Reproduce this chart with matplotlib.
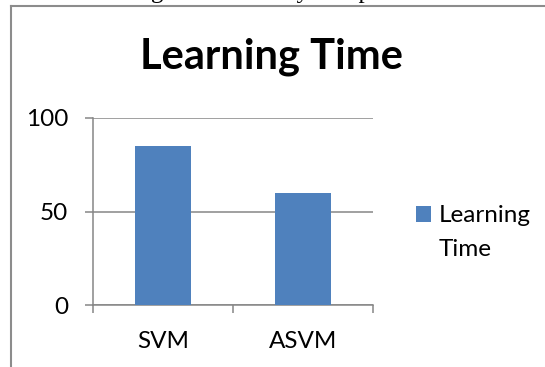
import matplotlib.pyplot as plt
from matplotlib.lines import Line2D
from matplotlib.patches import Rectangle
from matplotlib.legend_handler import HandlerPatch
from matplotlib.container import BarContainer

models = ['SVM', 'ASVM']
learning_time = [85, 60]
y_ticks = [0, 50, 100]

bar_color = '#4F81BD'
grid_color = '#868686'

plt.rcParams['font.family'] = ['Lato', 'DejaVu Sans']

W, H = 545, 367
fig = plt.figure(figsize=(W / 100, H / 100), dpi=100)

def fx(px):
    return px / W

def fy(py):
    return 1 - py / H

# cut-off caption from the page above the chart
fig.text(fx(73), fy(-1.8), 'Learning with accuracy comparison', family='Liberation Serif',
         fontsize=18, ha='left', va='baseline', color='black')

# chart border (only left and top visible)
fig.add_artist(Line2D([fx(11), fx(11)], [0, fy(6)], color='#8c8c8c', lw=1.5))
fig.add_artist(Line2D([fx(11), 1], [fy(6), fy(6)], color='#8c8c8c', lw=1.5))

fig.text(fx(271), fy(69), 'Learning Time', fontsize=30, fontweight='bold', ha='center', va='baseline')

ax = fig.add_axes([fx(93), fy(305), fx(373) - fx(93), fy(118) - fy(305)])
x = list(range(len(models)))
bars = ax.bar(x, learning_time, width=0.4, color=bar_color, label='Learning\nTime', zorder=3)

ax.set_xlim(-0.5, len(models) - 0.5)
ax.set_ylim(0, 100)
ax.set_yticks(y_ticks)
ax.set_yticklabels([str(v) for v in y_ticks])
ax.yaxis.grid(True, color=grid_color, lw=1.1, zorder=0)
ax.set_xticks(x)
ax.set_xticklabels(models)
ax.set_xticks([i - 0.5 for i in range(len(models) + 1)], minor=True)

for s in ['top', 'right']:
    ax.spines[s].set_visible(False)
for s in ['left', 'bottom']:
    ax.spines[s].set_color(grid_color)
    ax.spines[s].set_linewidth(1.1)

ax.tick_params(axis='y', length=5.8, width=1.1, color=grid_color, pad=12, labelsize=17.5)
ax.tick_params(axis='x', which='major', length=0, pad=19, labelsize=17.5)
ax.tick_params(axis='x', which='minor', length=5.8, width=1.1, color=grid_color)


# legend square sits next to the first line of the wrapped label
def top_square(legend, orig_handle, xdescent, ydescent, width, height, fontsize):
    return Rectangle((-xdescent, -ydescent + 13.5), width, height)


handler = HandlerPatch(patch_func=top_square,
                       update_func=lambda h, orig: h.update_from(orig.patches[0]))
leg = ax.legend(loc='center left', bbox_to_anchor=(fx(416), fy(232.5)), bbox_transform=fig.transFigure,
                frameon=False, fontsize=17.5, handlelength=0.62, handleheight=0.62, handletextpad=0.3,
                borderaxespad=0, borderpad=0,
                handler_map={BarContainer: handler})
for t in leg.get_texts():
    t.set_linespacing(1.75)

fig.savefig('out.png', dpi=100)
